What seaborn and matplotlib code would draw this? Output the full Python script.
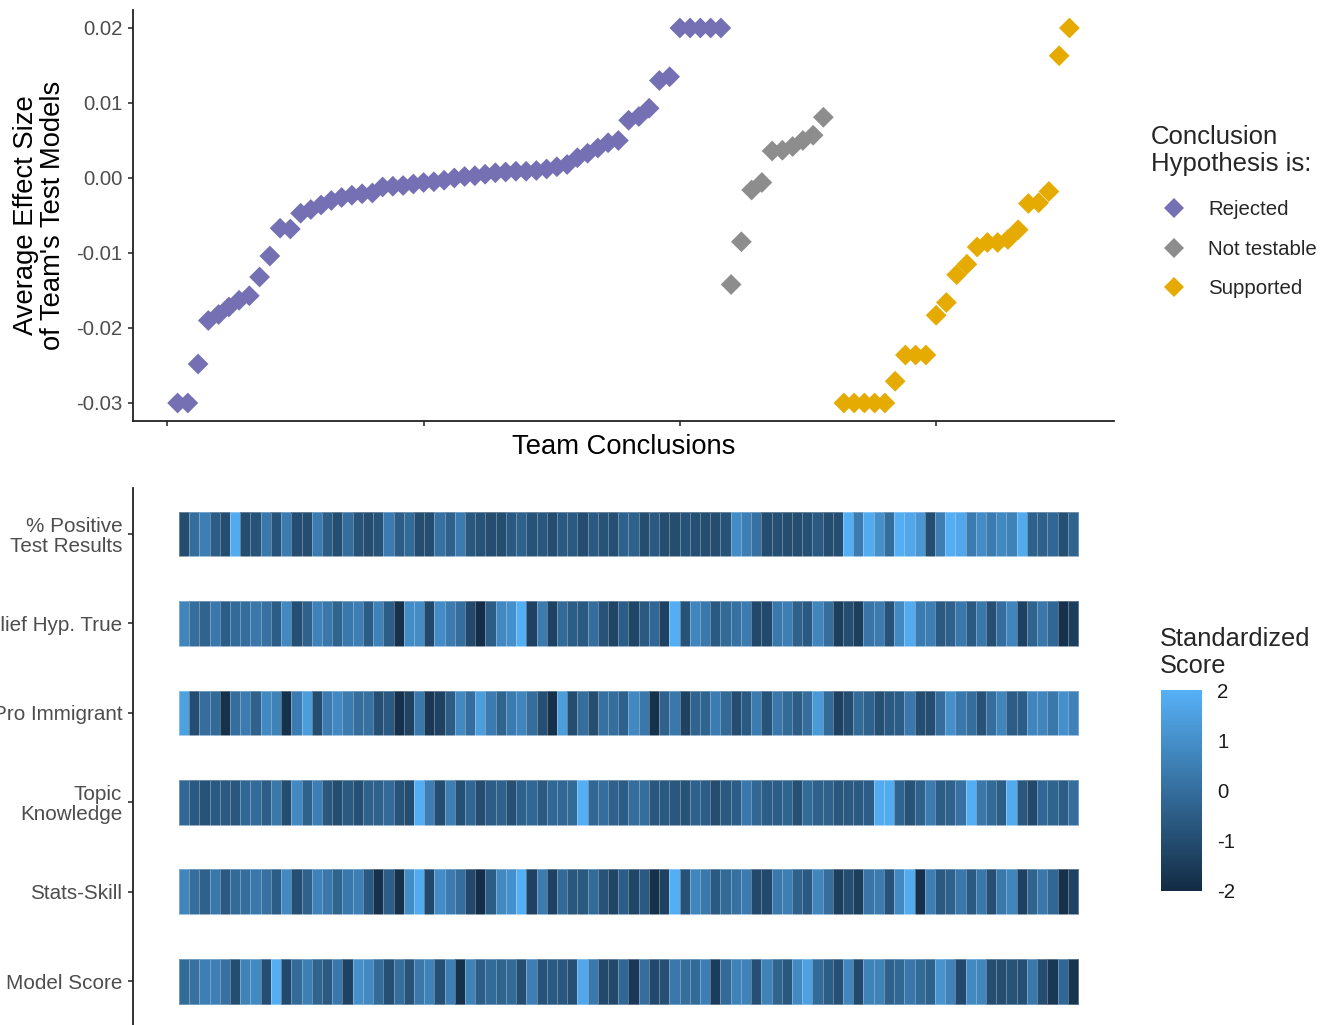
import numpy as np
import pandas as pd
import matplotlib
matplotlib.use("Agg")
import matplotlib.pyplot as plt
from matplotlib.colors import LinearSegmentedColormap
from matplotlib.lines import Line2D
import seaborn as sns

# average effect size per team, in plotted order (team 1..88); team 65 has no estimate
rejected_effect = [
    -0.0300, -0.0300, -0.0248, -0.0190, -0.0182, -0.0172, -0.0163, -0.0157, -0.0132, -0.0104,
    -0.0067, -0.0068, -0.0047, -0.0042, -0.0036, -0.0030, -0.0026, -0.0023, -0.0021, -0.0020,
    -0.0012, -0.0011, -0.0010, -0.0008, -0.0006, -0.0005, -0.0003, 0.0000, 0.0002, 0.0003,
    0.0005, 0.0007, 0.0008, 0.0009, 0.0009, 0.0010, 0.0012, 0.0015, 0.0018, 0.0027,
    0.0033, 0.0040, 0.0047, 0.0050, 0.0077, 0.0082, 0.0093, 0.0130, 0.0135, 0.0200,
    0.0200, 0.0200, 0.0200, 0.0200,
]
not_testable_effect = [-0.0142, -0.0085, -0.0016, -0.0006, 0.0036, 0.0037, 0.0042, 0.0050, 0.0057, 0.0081]
supported_effect = [
    np.nan, -0.0300, -0.0300, -0.0300, -0.0300, -0.0300, -0.0271, -0.0236, -0.0236, -0.0236,
    -0.0183, -0.0166, -0.0129, -0.0115, -0.0092, -0.0086, -0.0086, -0.0082, -0.0069, -0.0034,
    -0.0033, -0.0018, 0.0163, 0.0200,
]

conclusions = ["Rejected", "Not testable", "Supported"]
conclusion_colors = ["#7570B3", "#8D8D8D", "#E6AB02"]
y_ticks = [-0.03, -0.02, -0.01, 0.00, 0.01, 0.02]
y_ticklabels = ["-0.03", "-0.02", "-0.01", "0.00", "0.01", "0.02"]

# standardized team characteristics, same team order
score_names = ["% Positive\nTest Results", "Belief Hyp. True", "Pro Immigrant",
               "Topic\nKnowledge", "Stats-Skill", "Model Score"]
pct_positive = [
    -1.0, 0.0, 0.5, -0.5, -1.0, 1.8, -1.0, -0.8, 0.3, -0.8, 0.4, -1.0, -1.0, 0.4, -0.5, -1.0,
    0.0, -0.8, -1.0, -0.8, 0.4, -0.5, -0.1, -1.0, -1.0, 0.1, -0.4, 0.4, -0.7, -0.8, -1.0, -1.0,
    -0.6, -0.4, -0.8, -0.7, -1.0, -0.6, -0.6, -1.0, -0.6, -0.8, -0.9, -0.4,
    -0.4, -1.0, -0.6, -1.0, -1.0, -0.8, -0.9, -1.0, -1.0, -0.8, 0.9, 0.5, 0.1, -1.0, -0.9, -1.0,
    -1.0, -0.9, -0.6, -1.0, -1.0, 1.9, 0.4, 1.8, 1.0, 0.0, 1.9, 1.7, 1.2, -1.0, 0.5, 1.9,
    1.7, 0.4, 0.9, 0.4, 0.8, 0.6, 1.8, -0.4, -0.4, -0.2, -0.9, -0.3,
]
belief_true = [
    0.7, 0.0, -0.3, 0.3, -0.5, -0.1, 0.0, 0.3, 0.1, -0.5, 0.8, -0.9, -0.4, 0.6, 0.3, -0.3,
    0.3, 0.5, -0.5, 0.6, -0.5, -1.8, 0.9, 0.9, -1.1, 0.9, 0.4, 0.0, -1.1, -1.9, -0.5, 0.8,
    1.0, 1.9, -1.3, 0.4, -1.3, -0.1, -0.5, -0.6, 0.0, -0.8, -1.2, -0.5,
    -1.2, -0.6, -0.2, -1.3, 1.9, -0.8, 0.7, 0.3, -0.6, -0.1, 0.1, 0.4, -1.1, -1.1, 0.3, 0.5,
    -0.4, -0.6, 0.7, 0.0, -1.4, -1.0, -1.4, 0.2, 0.4, -0.8, 0.8, 1.8, 0.4, 0.5, -0.6, -0.4,
    0.3, -0.6, 0.3, -0.9, 0.0, 0.7, -1.3, -0.3, 0.3, -0.2, -1.8, -1.4,
]
pro_immigrant = [
    1.5, -1.0, 0.0, -0.1, -1.8, 0.0, 0.4, -0.4, 0.8, 0.6, -1.8, 0.4, 1.4, -1.0, 0.4, 0.8,
    0.4, 0.0, 0.1, -0.9, -0.6, -1.8, -1.3, 0.3, -1.6, -1.3, -0.5, 0.8, 0.0, 1.4, 0.4, -0.3,
    0.4, 0.7, 0.0, -0.9, -1.8, 1.4, -1.0, 0.0, -1.0, 0.1, 0.0, -0.4,
    0.8, 0.3, -1.8, -0.4, 0.3, -1.3, -0.3, -0.3, 0.4, -0.1, -1.0, -0.6, 0.4, -0.8, 0.3, -0.1,
    -0.5, 0.0, 1.3, -0.1, -1.3, -1.0, -0.1, -0.4, -0.9, -0.6, -0.5, 0.3, -1.0, -1.0, 0.0, 1.0,
    0.3, 0.0, -0.8, 0.0, 0.7, -0.5, -0.5, 0.7, 0.7, 0.3, 1.0, 0.6,
]
topic_knowledge = [
    -0.2, -0.6, -0.8, -0.6, -0.6, -0.7, -0.2, -0.1, -0.5, 0.3, -1.0, 0.8, -0.4, 0.5, -0.7, -1.0,
    -0.6, -0.9, -0.4, -0.4, -0.1, -0.8, -1.0, 1.9, 0.5, -1.0, 0.5, -0.9, -0.2, -1.0, -0.5, -0.4,
    -0.9, -0.4, -0.2, -0.6, -0.2, -0.2, -0.1, 1.9, -0.2, 0.0, -0.4, -0.5,
    0.0, 0.0, -0.7, -0.6, -0.7, -0.8, -0.4, -0.5, -1.0, -0.6, -0.5, 0.3, -0.2, -0.5, -0.5, -0.3,
    -0.9, -0.1, -0.4, -0.4, -0.7, -0.6, -0.6, -0.5, 1.8, 1.8, -0.3, -0.8, -0.4, 0.4, -0.5, -0.4,
    0.1, 1.9, 0.3, -0.1, -0.5, 1.8, -0.7, -1.1, -0.2, -0.3, -0.5, 0.0,
]
stats_skill = [
    0.7, 0.0, -0.4, 0.3, -0.6, -0.1, 0.0, 0.3, 0.1, -0.5, 0.8, -0.9, -0.4, 0.6, 0.3, -0.3,
    0.3, 0.5, -0.6, -1.8, -0.5, -1.8, 0.9, 1.8, -1.1, 0.9, 0.4, 0.0, -1.1, -1.9, -0.5, 0.8,
    1.0, 1.9, -1.3, 0.4, -1.3, -0.1, -0.7, -0.6, -0.1, -0.8, -1.2, -0.5,
    -1.2, -0.6, -1.8, -1.3, 1.9, -0.8, 0.7, 0.3, -0.6, -0.1, 0.1, 0.4, -1.1, -1.1, 0.3, 0.5,
    -0.4, -0.6, 0.7, 0.0, -1.4, -1.0, -1.4, 0.2, 0.4, -0.8, 0.8, 1.8, -1.8, 0.5, -0.6, -0.4,
    0.3, -0.6, 0.3, -0.9, 0.3, 0.7, -1.3, -0.3, 0.3, -0.2, -1.8, -1.3,
]
model_score = [
    -0.1, 0.1, 0.5, 0.5, 0.1, -1.0, 0.6, 0.8, -1.0, 1.9, -1.1, -0.1, 0.5, -0.3, -0.6, 0.3,
    -1.3, 1.0, 0.8, -0.1, -0.9, 0.0, -0.8, 0.3, 0.6, -0.9, 0.5, -1.8, 0.6, -0.5, -0.1, -0.3,
    -0.1, -1.0, 0.5, -0.8, -0.6, -0.7, -0.9, 1.7, 0.3, -1.1, -1.1, -0.2,
    -1.6, 0.0, -1.1, -0.9, 0.3, 0.0, -0.1, 0.5, -1.5, -0.1, 0.6, 0.6, -0.9, 0.6, -0.3, -0.7,
    0.8, 1.5, -0.1, -0.5, -0.9, 0.7, -1.1, 0.6, 0.6, -0.4, -0.2, 0.3, -0.1, -0.4, 1.1, 0.6,
    -1.1, 0.8, 0.7, -1.0, -1.0, -0.8, -0.9, 0.3, -1.0, -1.6, -0.2, -1.7,
]

# ---- data frames
effect = rejected_effect + not_testable_effect + supported_effect
group = (["Rejected"] * len(rejected_effect) + ["Not testable"] * len(not_testable_effect)
         + ["Supported"] * len(supported_effect))
top = pd.DataFrame({"team": np.arange(1, len(effect) + 1), "effect": effect, "conclusion": group})

scores = [pct_positive, belief_true, pro_immigrant, topic_knowledge, stats_skill, model_score]
# interleave empty rows so the strips are separated like tiles
mat = np.full((2 * len(scores) - 1, len(pct_positive)), np.nan)
for i, row in enumerate(scores):
    mat[2 * i] = row

# ---- style
sns.set_theme(style="ticks")
plt.rcParams["font.family"] = ["Liberation Sans", "DejaVu Sans"]
plt.rcParams["axes.unicode_minus"] = False

W, H = 1330, 1025
fig = plt.figure(figsize=(W / 100, H / 100), dpi=100)


def px_axes(left, top_, right, bottom):
    return fig.add_axes([left / W, 1 - bottom / H, (right - left) / W, (bottom - top_) / H])


tick_grey = "#4D4D4D"
line_col = "#222222"

# ---- top panel: effect sizes
ax1 = px_axes(133, 10, 1114, 421)
sns.scatterplot(data=top, x="team", y="effect", hue="conclusion", hue_order=conclusions,
                palette=dict(zip(conclusions, conclusion_colors)), marker="D", s=112,
                linewidth=0, ax=ax1, legend=False, clip_on=False, zorder=3)
ax1.set_xlim(-3.35, 92.35)
ax1.set_ylim(-0.0324, 0.0224)
ax1.set_xticks([0, 25, 50, 75])
ax1.set_yticks(y_ticks)
ax1.set_yticklabels(y_ticklabels)
ax1.tick_params(axis="both", length=3.8, width=1.1, color=line_col, labelsize=14.7,
                labelcolor=tick_grey, pad=4)
ax1.tick_params(axis="x", labelbottom=False)
for side in ["top", "right"]:
    ax1.spines[side].set_visible(False)
for side in ["left", "bottom"]:
    ax1.spines[side].set_linewidth(1.3)
    ax1.spines[side].set_color(line_col)
ax1.set_xlabel("Team Conclusions", fontsize=19.7, color="black", labelpad=5.5)
ax1.set_ylabel("Average Effect Size\nof Team's Test Models", fontsize=19.7, color="black",
               labelpad=7, linespacing=1.05)

handles = [Line2D([], [], marker="D", linestyle="none", markersize=10.6, markeredgewidth=0,
                  color=c) for c in conclusion_colors]
leg = fig.legend(handles, conclusions, loc="upper left", bbox_to_anchor=(1151 / W, 1 - 125 / H),
                 frameon=False, title="Conclusion\nHypothesis is:", title_fontsize=18.5,
                 fontsize=14.7, alignment="left", borderpad=0, borderaxespad=0,
                 handlelength=2.3, handletextpad=0.5, labelspacing=1.0)
leg.get_title().set_linespacing(1.15)
leg._legend_box.sep += 3.0  # a bit more room under the title

# ---- bottom panel: standardized scores
cmap = LinearSegmentedColormap.from_list("gg", ["#132B43", "#56B1F7"])
ax2 = px_axes(133, 488, 1125, 1025)
cax = px_axes(1161, 690, 1202, 891)
sns.heatmap(mat, cmap=cmap, vmin=-2, vmax=2, ax=ax2, cbar_ax=cax,
            linewidths=0.5, linecolor=(1, 1, 1, 0.3), xticklabels=False, yticklabels=False)
ax2.set_xlim(-4.5, 92.6)
ax2.set_ylim(11.48, -0.53)
ax2.set_yticks(np.arange(len(scores)) * 2 + 0.5)
ax2.set_yticklabels(score_names, linespacing=1.05)
ax2.set_xticks([])
ax2.spines["left"].set_visible(True)
ax2.spines["left"].set_linewidth(1.3)
ax2.spines["left"].set_color(line_col)
ax2.tick_params(axis="y", left=True, length=3.8, width=1.1, color=line_col, labelsize=14.9,
                labelcolor=tick_grey, pad=4, rotation=0)
ax2.set_xlabel("")
ax2.set_ylabel("")

cbar = ax2.collections[0].colorbar
cbar.outline.set_visible(False)
cbar.set_ticks([-2, -1, 0, 1, 2])
cbar.set_ticklabels(["-2", "-1", "0", "1", "2"])
cax.tick_params(axis="y", which="both", direction="in", left=True, right=True, length=6,
                width=1, color="white", labelsize=14.7, labelcolor="#1A1A1A", pad=11)
fig.text(1160 / W, 1 - 627 / H, "Standardized\nScore", fontsize=18.3, va="top", ha="left",
         linespacing=1.15)

fig.savefig("out.png", dpi=100)
